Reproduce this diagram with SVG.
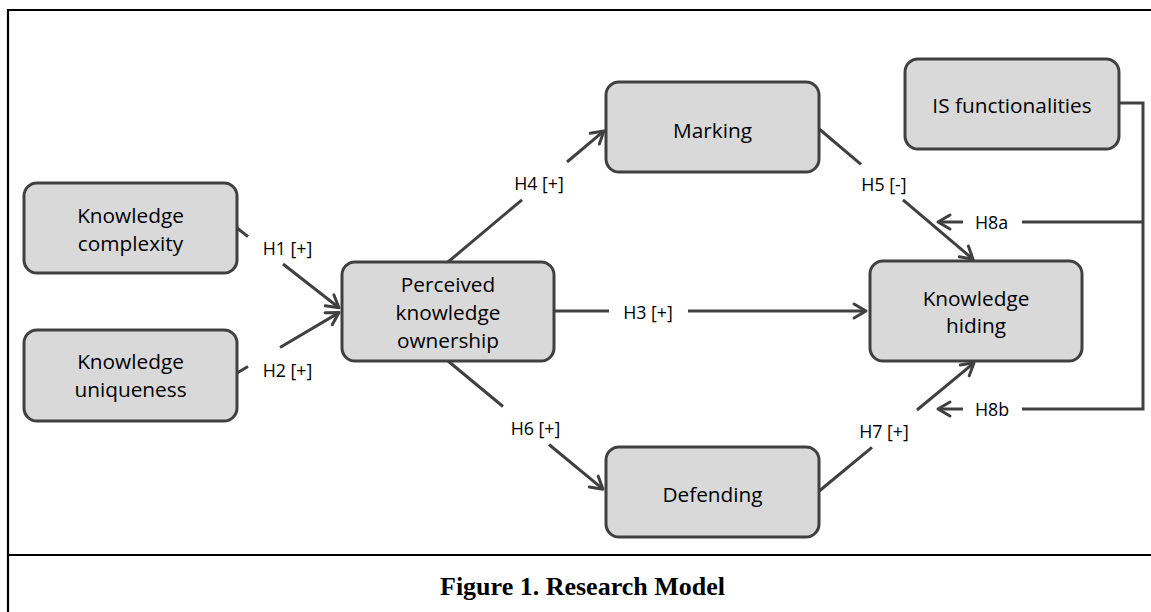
<svg xmlns="http://www.w3.org/2000/svg" width="1151" height="612" viewBox="0 0 1151 612">
<style>
.frame{stroke:#000;stroke-width:2.2;fill:none}
.box{fill:#d9d9d9;stroke:#404040;stroke-width:3}
.nt{font-family:"Open Sans","Liberation Sans",sans-serif;font-size:20.8px;fill:#000;text-anchor:middle}
.lt{font-family:"Open Sans","Liberation Sans",sans-serif;font-size:17.8px;fill:#000;text-anchor:middle}
.cn{stroke:#404040;stroke-width:3;fill:none}
.cap{font-family:"Liberation Serif","Times New Roman",serif;font-weight:bold;font-size:26px;fill:#000;text-anchor:middle}
</style>
<defs>
<marker id="arr" markerUnits="userSpaceOnUse" markerWidth="30" markerHeight="30" viewBox="-15 -15 30 30" refX="0" refY="0" orient="auto">
<path d="M-12,-7 L0,0 L-12,7" fill="none" stroke="#404040" stroke-width="3" stroke-linejoin="round" stroke-linecap="round"/>
</marker>
</defs>
<rect width="1151" height="612" fill="#fff"/>
<g id="frame">
<line class="frame" x1="8" y1="10" x2="1151" y2="10"/>
<line class="frame" x1="8" y1="9" x2="8" y2="612"/>
<line class="frame" x1="8" y1="555" x2="1151" y2="555"/>
</g>
<g id="connectors">
<line class="cn" x1="237" y1="228" x2="248" y2="236.6"/>
<line class="cn" x1="283" y1="264" x2="339" y2="307.7" marker-end="url(#arr)"/>
<line class="cn" x1="237" y1="373" x2="248" y2="366.5"/>
<line class="cn" x1="280" y1="347.5" x2="339" y2="312.6" marker-end="url(#arr)"/>
<line class="cn" x1="554" y1="311" x2="609" y2="311"/>
<line class="cn" x1="688" y1="311" x2="866" y2="311" marker-end="url(#arr)"/>
<line class="cn" x1="448" y1="262" x2="522" y2="199.8"/>
<line class="cn" x1="567" y1="162" x2="604" y2="130.9" marker-end="url(#arr)"/>
<line class="cn" x1="818" y1="128" x2="861" y2="164.4"/>
<line class="cn" x1="903" y1="199.9" x2="973" y2="259.2" marker-end="url(#arr)"/>
<line class="cn" x1="448" y1="361" x2="503" y2="406.5"/>
<line class="cn" x1="549" y1="444.5" x2="603" y2="489.2" marker-end="url(#arr)"/>
<line class="cn" x1="818" y1="492" x2="872" y2="447.3"/>
<line class="cn" x1="917" y1="410" x2="974" y2="362.8" marker-end="url(#arr)"/>
<polyline class="cn" points="1119,103 1143,103 1143,409 1022,409"/>
<line class="cn" x1="1143" y1="222" x2="1022" y2="222"/>
<line class="cn" x1="963" y1="222" x2="938" y2="222" marker-end="url(#arr)"/>
<line class="cn" x1="963" y1="409" x2="938" y2="409" marker-end="url(#arr)"/>
</g>
<g id="labels">
<text class="lt" x="287.5" y="255">H1 [+]</text>
<text class="lt" x="287.5" y="377">H2 [+]</text>
<text class="lt" x="648" y="319">H3 [+]</text>
<text class="lt" x="539" y="190">H4 [+]</text>
<text class="lt" x="884" y="191">H5 [-]</text>
<text class="lt" x="535.5" y="435">H6 [+]</text>
<text class="lt" x="884" y="438">H7 [+]</text>
<text class="lt" x="991.5" y="229">H8a</text>
<text class="lt" x="992" y="416">H8b</text>
</g>
<g id="n-complexity">
<rect class="box" x="24" y="183" width="213" height="90" rx="13"/>
<text class="nt" x="130.5" y="223">Knowledge</text>
<text class="nt" x="130.5" y="251">complexity</text>
</g>
<g id="n-uniqueness">
<rect class="box" x="24" y="330" width="213" height="91" rx="13"/>
<text class="nt" x="130.5" y="369">Knowledge</text>
<text class="nt" x="130.5" y="397">uniqueness</text>
</g>
<g id="n-ownership">
<rect class="box" x="342" y="262" width="212" height="99" rx="13"/>
<text class="nt" x="448" y="292">Perceived</text>
<text class="nt" x="448" y="320">knowledge</text>
<text class="nt" x="448" y="348">ownership</text>
</g>
<g id="n-marking">
<rect class="box" x="606" y="82" width="213" height="90" rx="13"/>
<text class="nt" x="712.5" y="138">Marking</text>
</g>
<g id="n-defending">
<rect class="box" x="606" y="447" width="213" height="90" rx="13"/>
<text class="nt" x="712.5" y="502">Defending</text>
</g>
<g id="n-is">
<rect class="box" x="905" y="59" width="214" height="90" rx="13"/>
<text class="nt" x="1012" y="113">IS functionalities</text>
</g>
<g id="n-hiding">
<rect class="box" x="870" y="261" width="212" height="100" rx="13"/>
<text class="nt" x="976" y="306">Knowledge</text>
<text class="nt" x="976" y="333">hiding</text>
</g>
<g id="caption">
<text class="cap" x="582.5" y="595">Figure 1. Research Model</text>
</g>
</svg>
